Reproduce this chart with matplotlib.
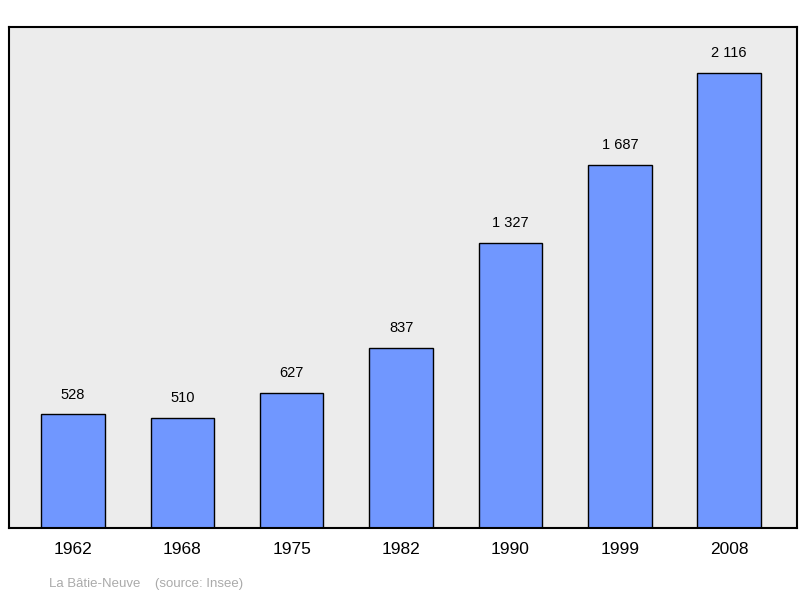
import matplotlib
matplotlib.use("Agg")
import matplotlib.pyplot as plt

annees = ["1962", "1968", "1975", "1982", "1990", "1999", "2008"]
population = [528, 510, 627, 837, 1327, 1687, 2116]
etiquettes = ["528", "510", "627", "837", "1 327", "1 687", "2 116"]

fig = plt.figure(figsize=(8, 5.98), dpi=100)
ax = fig.add_axes([0.01125, 0.117, 0.985, 0.838])
ax.set_facecolor("#ececec")

x = range(len(annees))
ax.bar(x, population, width=0.58, color="#7097ff", edgecolor="black", linewidth=1)
for i, (v, t) in enumerate(zip(population, etiquettes)):
    ax.text(i, v + 60, t, ha="center", va="bottom", fontsize=10.5, family="Liberation Sans")

ax.set_xlim(-0.585, 6.62)
ax.set_ylim(0, 2330)
ax.set_yticks([])
ax.set_xticks(list(x))
ax.set_xticklabels(annees, fontsize=12.5, family="Liberation Sans")
ax.tick_params(axis="x", length=0, pad=10)
for s in ax.spines.values():
    s.set_linewidth(1.5)

fig.text(49 / 800, 1 - 584 / 598, "La Bâtie-Neuve    (source: Insee)", color="#aaaaaa",
         fontsize=9.5, family="Liberation Sans", va="center")

fig.savefig("out.png", dpi=100)
